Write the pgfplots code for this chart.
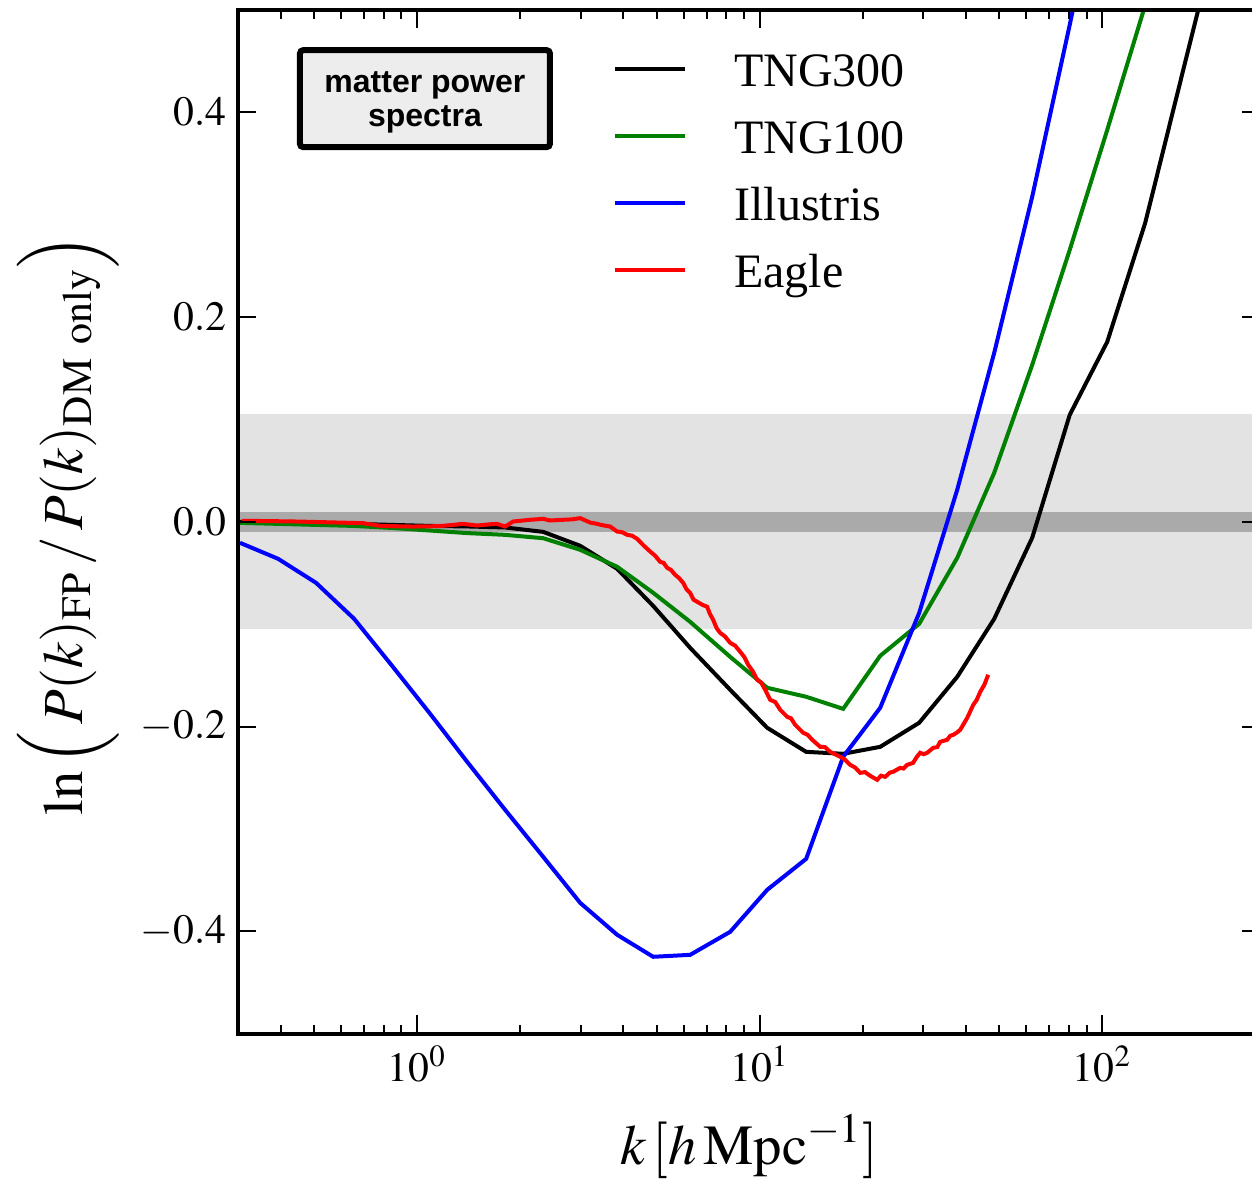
\documentclass[border=0pt]{standalone}
\usepackage{amsmath}
\usepackage{mathptmx}
\usepackage{fontspec}
\setmainfont{Liberation Serif}
\newfontfamily\boxfont{Liberation Sans}
\usepackage{pgfplots}
\pgfplotsset{compat=1.18}
\definecolor{bandlight}{HTML}{E3E3E3}
\definecolor{banddark}{HTML}{AAAAAA}
\definecolor{boxgray}{HTML}{EDEDED}
\definecolor{tnggreen}{HTML}{008000}

% k [h/Mpc], ln(P_FP/P_DM)
\pgfplotstableread{
k y
0.3041 0.0000
0.3928 -0.0010
0.5070 -0.0015
0.6547 -0.0020
0.8453 -0.0030
1.0913 -0.0040
1.3996 -0.0045
1.8066 -0.0055
2.3333 -0.0098
2.9920 -0.0234
3.8370 -0.0459
4.8873 -0.0821
6.2676 -0.1231
8.2020 -0.1641
10.517 -0.2012
13.67 -0.2247
17.53 -0.2266
22.48 -0.2198
29.22 -0.1963
37.73 -0.1514
48.38 -0.0948
62.45 -0.0156
80.37 0.1045
103.4 0.1758
133.5 0.2921
172.4 0.4415
222.5 0.5900
}\tngthree

\pgfplotstableread{
k y
0.3041 -0.0010
0.3928 -0.0020
0.5070 -0.0030
0.6547 -0.0040
0.8453 -0.0060
1.0913 -0.0085
1.3996 -0.0110
1.8066 -0.0127
2.3333 -0.0160
2.9920 -0.0273
3.8370 -0.0439
4.8873 -0.0693
6.2676 -0.0977
8.2020 -0.1319
10.517 -0.1621
13.67 -0.1709
17.53 -0.1827
22.48 -0.1309
29.22 -0.0996
37.73 -0.0352
48.38 0.0479
62.45 0.1533
80.37 0.2656
103.4 0.3828
133.5 0.5049
172.4 0.6270
}\tngone

\pgfplotstableread{
k y
0.3041 -0.0205
0.3928 -0.0361
0.5070 -0.0596
0.6547 -0.0947
0.8453 -0.1407
1.0913 -0.1875
1.3996 -0.2344
1.8066 -0.2813
2.3333 -0.3272
2.9920 -0.3722
3.8370 -0.4034
4.8873 -0.4249
6.2676 -0.4230
8.2020 -0.4005
10.517 -0.3595
13.67 -0.3292
17.53 -0.2295
22.48 -0.1817
29.22 -0.0889
37.73 0.0313
48.38 0.1651
62.45 0.3175
80.37 0.4855
103.4 0.6600
}\illustris

\pgfplotstableread{
k y
0.3084 0.0010
0.3722 0.0007
0.4463 0.0003
0.5572 -0.0005
0.6955 -0.0013
0.7798 -0.0039
0.8920 -0.0044
0.9735 -0.0046
1.0912 -0.0044
1.1910 -0.0039
1.3623 -0.0020
1.4969 -0.0036
1.6335 -0.0024
1.7123 -0.0020
1.8066 -0.0046
1.9064 0.0003
2.1380 0.0020
2.3333 0.0029
2.4452 0.0013
2.6686 0.0020
2.8352 0.0024
2.9920 0.0036
3.2001 -0.0007
3.3540 -0.0020
3.5000 -0.0035
3.6600 -0.0046
3.8370 -0.0095
3.9600 -0.0100
4.1037 -0.0127
4.2400 -0.0135
4.3882 -0.0166
4.5800 -0.0230
4.7890 -0.0290
4.9500 -0.0330
5.1228 -0.0391
5.2400 -0.0400
5.3697 -0.0449
5.5100 -0.0470
5.6666 -0.0518
5.8200 -0.0550
5.9791 -0.0596
6.1200 -0.0660
6.2676 -0.0694
6.4100 -0.0760
6.5688 -0.0781
6.8000 -0.0810
7.0259 -0.0830
7.1600 -0.0900
7.3147 -0.0957
7.4900 -0.1040
7.6677 -0.1084
7.9200 -0.1120
8.2020 -0.1182
8.4800 -0.1210
8.7747 -0.1270
9.0200 -0.1320
9.2559 -0.1397
9.5500 -0.1460
9.8335 -0.1543
10.100 -0.1570
10.378 -0.1641
10.732 -0.1739
11.100 -0.1760
11.477 -0.1836
12.030 -0.1905
12.350 -0.1920
12.694 -0.1983
13.397 -0.2061
13.800 -0.2080
14.231 -0.2129
15.016 -0.2198
15.500 -0.2200
16.062 -0.2247
17.179 -0.2295
17.700 -0.2320
18.374 -0.2374
19.000 -0.2400
19.653 -0.2452
20.300 -0.2445
21.020 -0.2481
22.033 -0.2520
22.600 -0.2480
23.247 -0.2491
24.000 -0.2450
24.532 -0.2442
25.711 -0.2403
26.300 -0.2410
26.952 -0.2374
28.061 -0.2354
28.700 -0.2300
29.411 -0.2256
30.100 -0.2270
30.832 -0.2256
32.105 -0.2208
33.000 -0.2200
33.651 -0.2149
35.271 -0.2129
36.000 -0.2090
36.728 -0.2081
37.600 -0.2060
38.496 -0.2032
40.350 -0.1915
42.019 -0.1788
43.000 -0.1740
44.042 -0.1661
45.300 -0.1590
46.469 -0.1494
}\eagle

\begin{document}
\begin{tikzpicture}
\begin{semilogxaxis}[name=ax, scale only axis, width=306.8pt, height=307.1pt,
  xmin=0.3, xmax=290, ymin=-0.5, ymax=0.5,
  ytick={-0.4,-0.2,0,0.2,0.4}, minor y tick num=0,
  yticklabel style={/pgf/number format/.cd, fixed, fixed zerofill, precision=1},
  tick label style={font=\fontsize{12.5}{15}\selectfont},
  tick align=inside, xtick pos=both, ytick pos=both,
  major tick length=5.5pt, minor tick length=2.7pt,
  every tick/.style={black, line width=0.6pt},
  axis line style={line width=1.2pt}, axis on top,
  label style={font=\fontsize{17}{20}\selectfont, inner sep=0pt},
  xlabel={$k\,[h\,\mathrm{Mpc}^{-1}]$},
  ylabel={$\ln\Big(\,P(k)_{\mathrm{FP}}\,/\,P(k)_{\mathrm{DM\ only}}\Big)$},
  xlabel style={at={(axis description cs:0.5,-0.1104)}, anchor=center},
  ylabel style={at={(axis description cs:-0.166,0.497)}, anchor=center},
  legend cell align=left,
  legend image code/.code={\draw[#1] (0pt,0pt) -- (21pt,0pt); \path (35.2pt,0pt);},
  legend style={at={(0.3667,0.9591)}, anchor=north west, draw=none, fill=none,
    inner sep=0pt, outer sep=0pt, row sep=9.6pt, column sep=0pt,
    font=\fontsize{14.4}{17}\selectfont,
    nodes={inner sep=0pt, text height=10.5pt, text depth=0pt}},
]
\addplot[draw=none, fill=bandlight, forget plot] coordinates {(0.2,-0.105) (400,-0.105) (400,0.105) (0.2,0.105)} -- cycle;
\addplot[draw=none, fill=banddark, forget plot] coordinates {(0.2,-0.01) (400,-0.01) (400,0.01) (0.2,0.01)} -- cycle;

\addplot[black, line width=1.2pt] table[x=k, y=y] {\tngthree};
\addlegendentry{TNG300}
\addplot[tnggreen, line width=1.2pt] table[x=k, y=y] {\tngone};
\addlegendentry{TNG100}
\addplot[blue, line width=1.2pt] table[x=k, y=y] {\illustris};
\addlegendentry{Illustris}
\addplot[red, line width=1.2pt] table[x=k, y=y] {\eagle};
\addlegendentry{Eagle}

\node[draw=black, line width=1.8pt, fill=boxgray, rounded corners=1pt,
  minimum width=75pt, minimum height=29.1pt, inner sep=0pt]
  at (rel axis cs:0.1828,0.9134) {};
\node[inner sep=0pt, align=center, font=\boxfont\bfseries\fontsize{9.6}{10.2}\selectfont]
  at (rel axis cs:0.1828,0.9095) {matter power\\spectra};
\end{semilogxaxis}
\pgfresetboundingbox
\path[use as bounding box] ([shift={(-71.4pt,-43.8pt)}]ax.south west) rectangle ([shift={(304.2pt,3pt)}]ax.north west);
\end{tikzpicture}
\end{document}
